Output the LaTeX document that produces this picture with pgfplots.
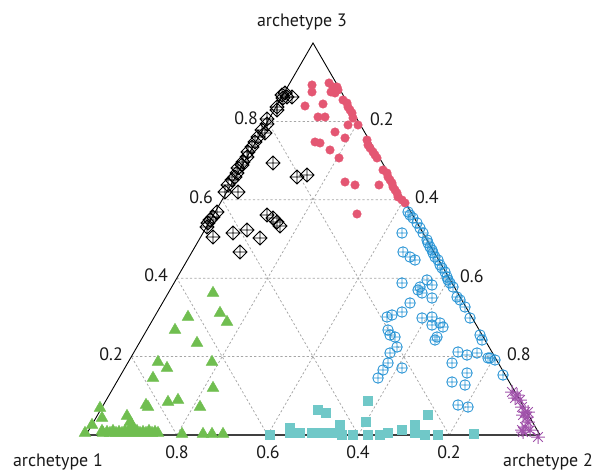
\documentclass[border=0pt]{standalone}
\usepackage{fontspec}
\setmainfont{PT Sans}
\usepackage{pgfplots}
\pgfplotsset{compat=1.18}
\definecolor{cpink}{RGB}{228,87,115}
\definecolor{cgreen}{RGB}{112,190,80}
\definecolor{ccyan}{RGB}{112,200,200}
\definecolor{cblue}{RGB}{36,146,212}
\definecolor{cpurple}{RGB}{160,82,170}
\pgfdeclareplotmark{dplus}{%
 \pgfpathmoveto{\pgfqpoint{0pt}{\pgfplotmarksize}}%
 \pgfpathlineto{\pgfqpoint{\pgfplotmarksize}{0pt}}%
 \pgfpathlineto{\pgfqpoint{0pt}{-\pgfplotmarksize}}%
 \pgfpathlineto{\pgfqpoint{-\pgfplotmarksize}{0pt}}%
 \pgfpathclose
 \pgfpathmoveto{\pgfqpoint{0pt}{\pgfplotmarksize}}%
 \pgfpathlineto{\pgfqpoint{0pt}{-\pgfplotmarksize}}%
 \pgfpathmoveto{\pgfqpoint{\pgfplotmarksize}{0pt}}%
 \pgfpathlineto{\pgfqpoint{-\pgfplotmarksize}{0pt}}%
 \pgfusepathqstroke}
\pgfdeclareplotmark{ast8}{%
 \pgfpathmoveto{\pgfqpoint{0pt}{\pgfplotmarksize}}%
 \pgfpathlineto{\pgfqpoint{0pt}{-\pgfplotmarksize}}%
 \pgfpathmoveto{\pgfqpoint{\pgfplotmarksize}{0pt}}%
 \pgfpathlineto{\pgfqpoint{-\pgfplotmarksize}{0pt}}%
 \pgfpathmoveto{\pgfqpoint{.707\pgfplotmarksize}{.707\pgfplotmarksize}}%
 \pgfpathlineto{\pgfqpoint{-.707\pgfplotmarksize}{-.707\pgfplotmarksize}}%
 \pgfpathmoveto{\pgfqpoint{.707\pgfplotmarksize}{-.707\pgfplotmarksize}}%
 \pgfpathlineto{\pgfqpoint{-.707\pgfplotmarksize}{.707\pgfplotmarksize}}%
 \pgfusepathqstroke}
\begin{document}
\begin{tikzpicture}
\begin{axis}[x=1bp,y=1bp,xmin=0,xmax=600,ymin=0,ymax=472,y dir=reverse,
  hide axis,clip=false]
% grid
\draw[gray!70,dash pattern=on 2.2pt off 2.2pt,line width=0.75pt]
  (axis cs:131.4,356.6) -- (axis cs:494.6,356.6)
  (axis cs:176.8,278.2) -- (axis cs:449.2,278.2)
  (axis cs:222.2,199.8) -- (axis cs:403.8,199.8)
  (axis cs:267.6,121.4) -- (axis cs:358.4,121.4)
  (axis cs:176.8,435) -- (axis cs:131.4,356.6)
  (axis cs:267.6,435) -- (axis cs:176.8,278.2)
  (axis cs:358.4,435) -- (axis cs:222.2,199.8)
  (axis cs:449.2,435) -- (axis cs:267.6,121.4)
  (axis cs:176.8,435) -- (axis cs:358.4,121.4)
  (axis cs:267.6,435) -- (axis cs:403.8,199.8)
  (axis cs:358.4,435) -- (axis cs:449.2,278.2)
  (axis cs:449.2,435) -- (axis cs:494.6,356.6);
% edges
\draw[black,line width=0.9pt] (axis cs:86,435) -- (axis cs:313,43) -- (axis cs:540,435);
\draw[black!75,line width=1.8pt] (axis cs:86,435) -- (axis cs:540,435);
% series
\addplot[only marks,mark=*,mark size=4.3pt,color=cpink] coordinates {
(312,85)(312,92)(305,106)(323,104)(318,117)(325,117)(329,83)(333,87)(337,87)(331,92)(335,93)(338,90)(343,100)(347,103)(348,107)(350,110)(352,113)(353,118)(348,125)(358,125)(335,132)(345,138)(315,142)(320,143)(330,150)(339,158)(367,140)(368,145)(370,148)(373,152)(375,155)(377,158)(383,170)(387,173)(388,177)(390,180)(392,183)(393,187)(395,190)(397,193)(398,197)(402,200)(405,203)(345,182)(355,185)(379,185)(357,214)};
\addplot[only marks,mark=dplus,mark size=7pt,color=black,line width=0.8pt] coordinates {
(282,95)(285,93)(287,97)(292,97)(283,98)(277,107)(277,110)(267,119)(267,124)(262,130)(265,133)(258,137)(255,142)(252,147)(248,152)(247,157)(243,162)(242,165)(238,168)(237,173)(235,177)(232,180)(228,185)(225,192)(238,192)(273,163)(297,177)(307,175)(217,212)(213,217)(210,220)(208,223)(207,227)(213,237)(233,233)(247,230)(260,238)(240,252)(267,215)(273,218)(277,222)(280,226)};
\addplot[only marks,mark=triangle*,mark size=6.8pt,color=cgreen] coordinates {
(213,293)(188,317)(220,313)(227,322)(175,330)(197,343)(158,362)(167,368)(212,362)(153,378)(213,388)(146,405)(148,407)(168,402)(178,400)(200,407)(100,408)(102,418)(92,425)(85,433)(127,416)(130,422)(132,425)(102,431)(103,433)(107,432)(110,433)(113,431)(116,433)(119,432)(122,433)(125,431)(128,433)(131,432)(134,433)(137,431)(140,433)(143,432)(146,433)(149,431)(152,433)(155,432)(158,433)(182,434)(203,434)(212,434)(223,434)};
\addplot[only marks,mark=square*,mark size=4.6pt,color=ccyan] coordinates {
(270,435)(290,433)(290,428)(300,433)(312,433)(322,433)(332,433)(342,435)(353,435)(368,435)(380,435)(388,433)(402,430)(415,433)(425,435)(438,435)(318,410)(326,413)(340,425)(368,401)(366,422)(415,425)(428,415)(474,434)};
\addplot[only marks,mark=oplus,mark size=5.3pt,color=cblue,line width=0.8pt,mark options={fill=white}] coordinates {
(408,212)(410,215)(413,218)(417,223)(420,228)(423,233)(427,240)(428,243)(430,247)(432,250)(433,253)(435,257)(438,260)(440,265)(442,268)(445,272)(447,277)(448,280)(450,283)(453,287)(457,297)(460,300)(465,307)(470,318)(480,335)(482,340)(490,358)(495,360)(503,375)
(402,233)(403,252)(410,257)(415,260)(402,283)(427,280)(420,287)(418,290)(432,285)(422,293)(410,303)(432,298)(387,317)(392,315)(402,312)(422,318)(432,317)(440,323)(443,327)(432,325)(437,337)(435,340)(388,330)(390,335)(395,337)(397,347)(390,353)(388,363)(383,370)(378,378)(402,368)(458,352)(467,355)(477,353)(488,358)(452,363)(467,373)(452,382)(465,385)(458,405)(468,407)};
\addplot[only marks,mark=ast8,mark size=6.8pt,color=cpurple,line width=1pt] coordinates {
(512,392)(517,395)(520,400)(515,398)(522,407)(525,412)(528,412)(523,415)(527,417)(528,422)(525,427)(522,430)(523,432)(530,430)(538,437)};
% labels
\begin{scope}[every node/.style={font=\fontsize{18}{21}\selectfont,text=black!90,inner sep=0pt}]
\node[anchor=east] at (axis cs:123,354) {0.2};
\node[anchor=east] at (axis cs:168,275) {0.4};
\node[anchor=east] at (axis cs:213,197) {0.6};
\node[anchor=east] at (axis cs:258,118) {0.8};
\node[anchor=west] at (axis cs:370,119) {0.2};
\node[anchor=west] at (axis cs:415,197) {0.4};
\node[anchor=west] at (axis cs:460,276) {0.6};
\node[anchor=west] at (axis cs:507,354) {0.8};
\node at (axis cs:177,452) {0.8};
\node at (axis cs:268,452) {0.6};
\node at (axis cs:358,452) {0.4};
\node at (axis cs:449,452) {0.2};
\node at (axis cs:302,22) {archetype 3};
\node at (axis cs:58,462) {archetype 1};
\node at (axis cs:548,462) {archetype 2};
\end{scope}
\end{axis}
\pgfresetboundingbox
\path (current axis.south west) rectangle (current axis.north east);
\end{tikzpicture}
\end{document}
